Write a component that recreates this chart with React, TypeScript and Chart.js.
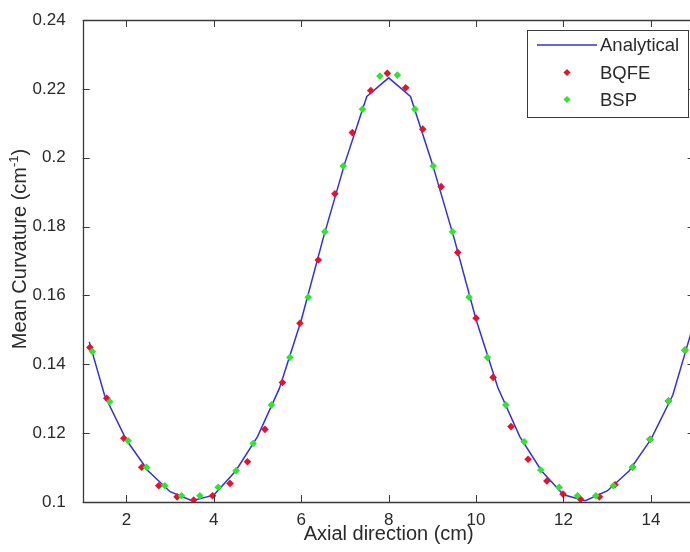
import React, { useEffect, useRef } from "react";
import { Chart, registerables } from "chart.js";

Chart.register(...registerables);

const analyticalX = [1.15, 1.5, 2, 2.5, 3, 3.5, 4, 4.5, 5, 5.5, 6, 6.5, 7, 7.5, 8, 8.5, 9, 9.5, 10, 10.5, 11, 11.5, 12, 12.5, 13, 13.5, 14, 14.5, 14.95];
const analyticalY = [0.1465, 0.131, 0.118, 0.109, 0.103, 0.1004, 0.102, 0.109, 0.119, 0.133, 0.1528, 0.1765, 0.1985, 0.2178, 0.2232, 0.2178, 0.1982, 0.1765, 0.153, 0.1332, 0.119, 0.109, 0.1021, 0.1004, 0.1032, 0.109, 0.1182, 0.131, 0.1505];

const bqfeX = [1.165, 1.55, 1.94, 2.35, 2.74, 3.16, 3.54, 3.97, 4.37, 4.77, 5.17, 5.57, 5.97, 6.39, 6.77, 7.17, 7.59, 7.97, 8.39, 8.78, 9.2, 9.58, 10.0, 10.39, 10.8, 11.19, 11.62, 11.99, 12.39, 12.82, 13.18, 13.58, 13.98, 14.4, 14.78];
const bqfeY = [0.1449, 0.1301, 0.1185, 0.1101, 0.1047, 0.1015, 0.1006, 0.1018, 0.1054, 0.1117, 0.1211, 0.1347, 0.1519, 0.1703, 0.1895, 0.2073, 0.2195, 0.2245, 0.2203, 0.2083, 0.1916, 0.1725, 0.1534, 0.1362, 0.1219, 0.1124, 0.1061, 0.1023, 0.1008, 0.1015, 0.105, 0.1101, 0.1182, 0.1293, 0.1441];

const bspX = [1.22, 1.62, 2.04, 2.46, 2.88, 3.26, 3.68, 4.1, 4.51, 4.9, 5.32, 5.74, 6.16, 6.54, 6.96, 7.4, 7.8, 8.2, 8.6, 9.02, 9.46, 9.84, 10.26, 10.68, 11.1, 11.48, 11.9, 12.32, 12.74, 13.14, 13.58, 13.98, 14.4, 14.78];
const bspY = [0.1437, 0.1291, 0.1178, 0.1101, 0.1047, 0.1018, 0.1018, 0.1043, 0.1091, 0.117, 0.1282, 0.142, 0.1595, 0.1785, 0.1976, 0.2141, 0.2237, 0.224, 0.2141, 0.1976, 0.1785, 0.1595, 0.142, 0.1282, 0.1175, 0.1093, 0.1043, 0.1018, 0.1018, 0.1047, 0.1101, 0.1182, 0.1293, 0.1441];

const xTicks = [2, 4, 6, 8, 10, 12, 14];
const yTickLabels = ["0.1", "0.12", "0.14", "0.16", "0.18", "0.2", "0.22", "0.24"];
const yTicks = yTickLabels.map((s) => parseFloat(s));

const FONT = "'Liberation Sans', Arial, sans-serif";
const AXIS_COLOR = "#3a3a3a";
const TEXT_COLOR = "#2a2a2a";

const framePlugin = {
  id: "frame",
  afterDatasetsDraw(chart: any) {
    const { ctx, chartArea: a, scales } = chart;
    const tl = 7;
    ctx.save();
    ctx.strokeStyle = AXIS_COLOR;
    ctx.lineWidth = 1.3;
    ctx.beginPath();
    ctx.rect(Math.round(a.left) + 0.5, Math.round(a.top) + 0.5, Math.round(a.right - a.left), Math.round(a.bottom - a.top));
    ctx.stroke();
    ctx.lineWidth = 1;
    ctx.beginPath();
    for (const v of xTicks) {
      const px = Math.round(scales.x.getPixelForValue(v)) + 0.5;
      ctx.moveTo(px, a.bottom);
      ctx.lineTo(px, a.bottom - tl);
      ctx.moveTo(px, a.top);
      ctx.lineTo(px, a.top + tl);
    }
    for (const v of yTicks) {
      const py = Math.round(scales.y.getPixelForValue(v)) + 0.5;
      ctx.moveTo(a.left, py);
      ctx.lineTo(a.left + tl, py);
      ctx.moveTo(a.right, py);
      ctx.lineTo(a.right - tl, py);
    }
    ctx.stroke();

    // y-axis title with superscript
    const cy = 249;
    const cx = 20;
    ctx.translate(cx, cy);
    ctx.rotate(-Math.PI / 2);
    ctx.fillStyle = TEXT_COLOR;
    ctx.textBaseline = "middle";
    const main = "Mean Curvature (cm";
    const sup = "-1";
    const end = ")";
    ctx.font = `20px ${FONT}`;
    const w1 = ctx.measureText(main).width;
    const w3 = ctx.measureText(end).width;
    ctx.font = `13px ${FONT}`;
    const w2 = ctx.measureText(sup).width;
    const total = w1 + w2 + w3;
    const x0 = -total / 2;
    ctx.textAlign = "left";
    ctx.font = `20px ${FONT}`;
    ctx.fillText(main, x0, 0);
    ctx.font = `13px ${FONT}`;
    ctx.fillText(sup, x0 + w1, -6);
    ctx.font = `20px ${FONT}`;
    ctx.fillText(end, x0 + w1 + w2, 0);
    ctx.restore();

    // legend
    ctx.save();
    const bx = 527.5, by = 30.5, bw = 161, bh = 87;
    ctx.fillStyle = "#ffffff";
    ctx.fillRect(bx, by, bw, bh);
    ctx.strokeStyle = AXIS_COLOR;
    ctx.lineWidth = 1;
    ctx.strokeRect(bx, by, bw, bh);
    const rows = [45, 72.5, 99.5];
    const ds = chart.data.datasets;
    ctx.font = `18.5px ${FONT}`;
    ctx.textBaseline = "middle";
    ctx.textAlign = "left";
    ds.forEach((d: any, i: number) => {
      const y = rows[i];
      if (d.showLine) {
        ctx.strokeStyle = d.borderColor;
        ctx.lineWidth = 1.5;
        ctx.beginPath();
        ctx.moveTo(537, y);
        ctx.lineTo(597, y);
        ctx.stroke();
      } else {
        ctx.fillStyle = d.backgroundColor;
        const r = 3.6;
        ctx.beginPath();
        ctx.moveTo(567, y - r);
        ctx.lineTo(567 + r, y);
        ctx.lineTo(567, y + r);
        ctx.lineTo(567 - r, y);
        ctx.closePath();
        ctx.fill();
      }
      ctx.fillStyle = TEXT_COLOR;
      ctx.fillText(d.label, 600, y + 1);
    });
    ctx.restore();
  },
};

export default function App() {
  const ref = useRef<HTMLCanvasElement | null>(null);
  useEffect(() => {
    if (!ref.current) return;
    const chart = new Chart(ref.current, {
      type: "scatter",
      data: {
        datasets: [
          {
            label: "Analytical",
            data: analyticalX.map((x, i) => ({ x, y: analyticalY[i] })),
            showLine: true,
            borderColor: "#3232dc",
            backgroundColor: "#3232dc",
            borderWidth: 1.5,
            pointRadius: 0,
            order: 2,
          },
          {
            label: "BQFE",
            data: bqfeX.map((x, i) => ({ x, y: bqfeY[i] })),
            showLine: false,
            backgroundColor: "#e8102a",
            borderColor: "#e8102a",
            pointStyle: "rectRot",
            pointRadius: 3.8,
            borderWidth: 0,
            order: 1,
          },
          {
            label: "BSP",
            data: bspX.map((x, i) => ({ x, y: bspY[i] })),
            showLine: false,
            backgroundColor: "#2ee62e",
            borderColor: "#2ee62e",
            pointStyle: "rectRot",
            pointRadius: 3.8,
            borderWidth: 0,
            order: 0,
          },
        ],
      },
      options: {
        animation: false,
        responsive: false,
        devicePixelRatio: 1,
        layout: { padding: { left: 0, top: 20, right: 5.4, bottom: 0 } },
        plugins: { legend: { display: false }, tooltip: { enabled: false } },
        scales: {
          x: {
            type: "linear",
            min: 1,
            max: 15,
            grid: { display: false },
            border: { display: false },
            afterBuildTicks: (s: any) => {
              s.ticks = xTicks.map((v) => ({ value: v }));
            },
            afterFit: (s: any) => {
              s.height = 50;
            },
            ticks: {
              padding: 0,
              color: TEXT_COLOR,
              font: { family: FONT, size: 17 },
              maxRotation: 0,
              autoSkip: false,
              callback: (v: any) => String(v),
            },
            title: {
              display: true,
              text: "Axial direction (cm)",
              color: TEXT_COLOR,
              font: { family: FONT, size: 20 },
              padding: { top: 0, bottom: 6 },
            },
          },
          y: {
            type: "linear",
            min: 0.1,
            max: 0.24,
            grid: { display: false },
            border: { display: false },
            afterBuildTicks: (s: any) => {
              s.ticks = yTicks.map((v) => ({ value: v }));
            },
            afterFit: (s: any) => {
              s.width = 82.7;
            },
            ticks: {
              padding: 9,
              color: TEXT_COLOR,
              font: { family: FONT, size: 17 },
              autoSkip: false,
              callback: (_v: any, i: number) => yTickLabels[i],
            },
          },
        },
      },
      plugins: [framePlugin],
    });
    return () => chart.destroy();
  }, []);

  return (
    <div style={{ position: "absolute", left: 0, top: 0, width: 690, height: 552, overflow: "hidden", background: "#fff" }}>
      <canvas ref={ref} width={700} height={552} style={{ display: "block", width: 700, height: 552 }} />
    </div>
  );
}
